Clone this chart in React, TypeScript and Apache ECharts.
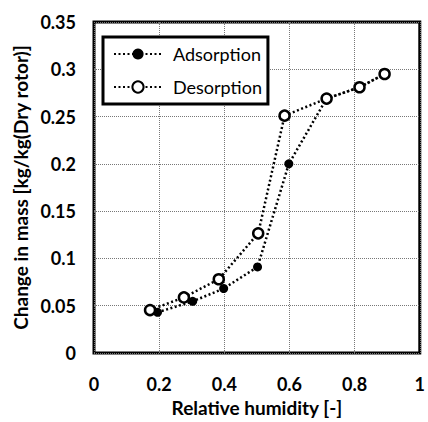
import React, { useEffect, useRef } from "react";
import * as echarts from "echarts";

const adsorptionRH = [0.195, 0.303, 0.398, 0.502, 0.598, 0.714, 0.815, 0.892];
const adsorptionMass = [0.043, 0.0546, 0.0682, 0.091, 0.2, 0.269, 0.281, 0.295];
const desorptionRH = [0.172, 0.276, 0.383, 0.504, 0.585, 0.714, 0.815, 0.892];
const desorptionMass = [0.0454, 0.0588, 0.078, 0.1265, 0.251, 0.269, 0.281, 0.295];

const FONT = "Lato";

export default function App() {
  const ref = useRef<HTMLDivElement>(null);
  useEffect(() => {
    if (!ref.current) return;
    const chart = echarts.init(ref.current, null, { renderer: "svg" });
    const lineStyle = { color: "#000", width: 2.5, type: [2, 2.5] as any, cap: "butt" as any };
    chart.setOption({
      animation: false,
      backgroundColor: "#fff",
      grid: {
        left: 94,
        right: 6,
        top: 22,
        bottom: 69,
        show: true,
        borderColor: "#000",
        borderWidth: 3,
        backgroundColor: "#fff",
      },
      legend: {
        left: 103,
        top: 37,
        orient: "vertical",
        backgroundColor: "#fff",
        borderColor: "#000",
        borderWidth: 3,
        padding: [8, 6, 8, 10],
        itemWidth: 48,
        itemHeight: 14,
        itemGap: 15,
        z: 10,
        textStyle: { fontFamily: FONT, fontSize: 18, color: "#000", padding: [0, 0, 0, 6] },
        data: ["Adsorption", "Desorption"],
      },
      xAxis: {
        type: "value",
        min: 0,
        max: 1,
        interval: 0.2,
        name: "Relative humidity [-]",
        nameLocation: "middle",
        nameGap: 44,
        nameTextStyle: { fontFamily: FONT, fontSize: 19, fontWeight: "bold", color: "#000" },
        axisLine: { show: false },
        axisTick: { show: false },
        axisLabel: { fontFamily: FONT, fontSize: 18, fontWeight: "bold", color: "#000", margin: 22 },
        splitLine: { show: true, lineStyle: { color: "#777", width: 1, type: [1, 1] } },
      },
      yAxis: {
        type: "value",
        min: 0,
        max: 0.35,
        interval: 0.05,
        name: "Change in mass [kg/kg(Dry rotor)]",
        nameLocation: "middle",
        nameGap: 60,
        nameTextStyle: { fontFamily: FONT, fontSize: 19, fontWeight: "bold", color: "#000" },
        axisLine: { show: false },
        axisTick: { show: false },
        axisLabel: { fontFamily: FONT, fontSize: 18, fontWeight: "bold", color: "#000", margin: 18 },
        splitLine: { show: true, lineStyle: { color: "#777", width: 1, type: [1, 1] } },
      },
      series: [
        {
          name: "Adsorption",
          type: "line",
          data: adsorptionRH.map((x, i) => [x, adsorptionMass[i]]),
          symbol: "circle",
          symbolSize: 9,
          itemStyle: { color: "#000", borderColor: "#000", borderWidth: 0 },
          lineStyle,
          z: 2,
        },
        {
          name: "Desorption",
          type: "line",
          data: desorptionRH.map((x, i) => [x, desorptionMass[i]]),
          symbol: "circle",
          symbolSize: 10,
          itemStyle: { color: "#fff", borderColor: "#000", borderWidth: 2.5 },
          lineStyle,
          z: 3,
        },
      ],
    });
    return () => chart.dispose();
  }, []);
  return (
    <div
      ref={ref}
      style={{ position: "fixed", left: 0, top: 0, width: 428, height: 422 }}
    />
  );
}
